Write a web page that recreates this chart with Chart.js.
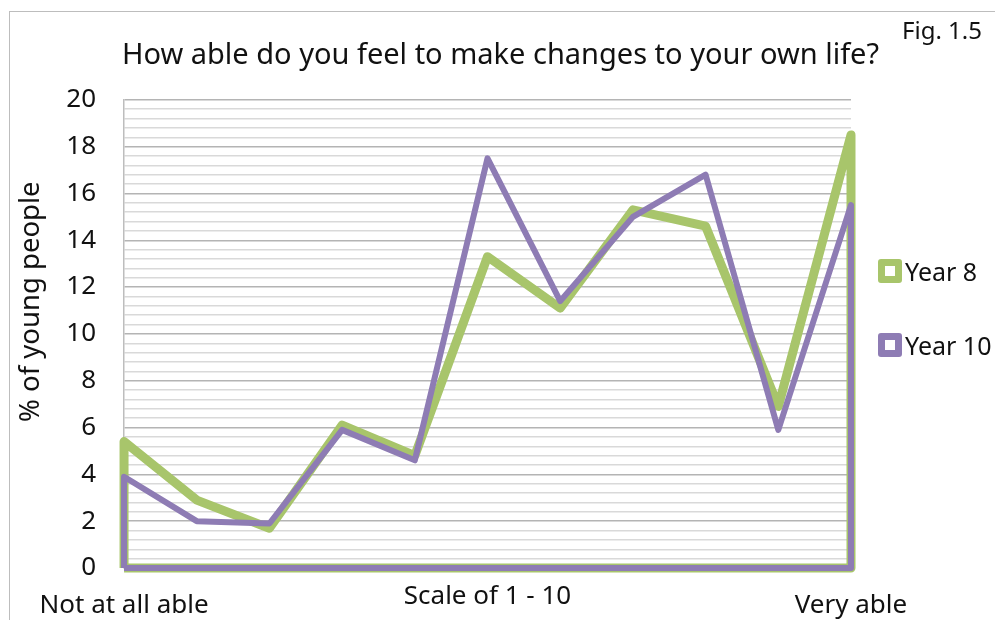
<!DOCTYPE html>
<html>
<head>
<meta charset="utf-8">
<script src="https://cdn.jsdelivr.net/npm/chart.js@4.4.0/dist/chart.umd.min.js"></script>
<style>
  html, body { margin: 0; padding: 0; background: #fff; }
  #wrap { position: relative; width: 995px; height: 620px; overflow: hidden; font-family: 'Noto Sans', sans-serif; color: #111; }
  /* cadre gris de la figure (seuls les bords haut et gauche sont visibles) */
  #frame {
    position: absolute; left: 9px; top: 11px; right: -10px; bottom: -10px;
    border-left: 1.5px solid #bdbdbd; border-top: 1.5px solid #bdbdbd;
    pointer-events: none;
  }
  #fig { position: absolute; right: 13px; top: 18px; font-size: 24px; line-height: 24px; }
  #legend { position: absolute; left: 878px; top: 259px; }
  .item { display: flex; align-items: center; height: 24px; font-size: 25px; line-height: 24px; margin-bottom: 50px; }
  .box { width: 24px; height: 24px; box-sizing: border-box; border: 7px solid; border-radius: 3px; background: #fff; margin-right: 3px; }
</style>
</head>
<body>
<div id="wrap">
  <canvas id="lifeChart" width="995" height="620"></canvas>
  <div id="frame"></div>
  <div id="fig">Fig. 1.5</div>
  <div id="legend"></div>
</div>
<script>
// ------------------------------------------------------------
//  Fig. 1.5 - How able do you feel to make changes to your own life?
// ------------------------------------------------------------

const FONT = "'Noto Sans', sans-serif";

// points de l'échelle (de "Not at all able" à "Very able")
const scalePoints = [0, 1, 2, 3, 4, 5, 6, 7, 8, 9, 10];
const endLabels = ["Not at all able", "Very able"];

// % of young people
const year8 = [5.4, 2.9, 1.7, 6.1, 4.8, 13.3, 11.1, 15.3, 14.6, 6.9, 18.5];
const year10 = [3.9, 2.0, 1.9, 5.9, 4.6, 17.5, 11.4, 15.0, 16.8, 5.9, 15.5];

const seriesNames = ["Year 8", "Year 10"];
const seriesColors = ["#a8c56b", "#8e7cb4"];

// contour d'une aire (comme un graphique en aires Excel sans remplissage)
function areaOutline(values) {
    const first = scalePoints[0];
    const last = scalePoints[scalePoints.length - 1];
    const pts = values.map((v, i) => ({ x: scalePoints[i], y: v }));
    return [{ x: first, y: 0 }, ...pts, { x: last, y: 0 }, { x: first, y: 0 }];
}

const isMajor = v => Math.abs(v / 2 - Math.round(v / 2)) < 1e-6;

// légende en HTML (boîtes carrées à bord épais)
const legendEl = document.getElementById("legend");
seriesNames.forEach((name, i) => {
    const item = document.createElement("div");
    item.className = "item";
    const box = document.createElement("span");
    box.className = "box";
    box.style.borderColor = seriesColors[i];
    item.appendChild(box);
    item.appendChild(document.createTextNode(name));
    legendEl.appendChild(item);
});

const ctx = document.getElementById("lifeChart").getContext("2d");

new Chart(ctx, {
    type: "line",
    data: {
        datasets: [
            {
                label: seriesNames[0],
                data: areaOutline(year8),
                borderColor: seriesColors[0],
                borderWidth: 9,
                borderJoinStyle: "round",
                pointRadius: 0,
                fill: false,
                tension: 0,
                clip: 10,
                order: 2
            },
            {
                label: seriesNames[1],
                data: areaOutline(year10),
                borderColor: seriesColors[1],
                borderWidth: 6,
                borderJoinStyle: "round",
                pointRadius: 0,
                fill: false,
                tension: 0,
                clip: 10,
                order: 1
            }
        ]
    },
    options: {
        responsive: false,
        animation: false,
        layout: { padding: { top: 0, right: 0, bottom: 0, left: 6 } },
        scales: {
            x: {
                type: "linear",
                min: 0,
                max: 10,
                grid: { display: false, drawTicks: false },
                border: { display: false },
                ticks: {
                    stepSize: 1,
                    autoSkip: false,
                    maxRotation: 0,
                    padding: 22,
                    color: "#111",
                    font: { family: FONT, size: 26 },
                    callback: v => v === 0 ? endLabels[0] : (v === 10 ? endLabels[1] : "")
                },
                title: {
                    display: true,
                    text: "Scale of 1 - 10",
                    color: "#111",
                    font: { family: FONT, size: 26 },
                    padding: { top: -61.8, bottom: 7.4 }
                }
            },
            y: {
                min: 0,
                max: 20,
                grid: {
                    drawTicks: false,
                    lineWidth: 1.5,
                    color: c => isMajor(c.tick.value) ? "#b4b4b4" : "#d9d9d9"
                },
                border: { display: true, color: "#bdbdbd", width: 1.5 },
                ticks: {
                    stepSize: 0.4,
                    autoSkip: false,
                    padding: 28,
                    color: "#111",
                    font: { family: FONT, size: 26 },
                    callback: v => isMajor(v) ? String(Math.round(v)) : ""
                },
                title: {
                    display: true,
                    // espaces insécables en tête : le titre est un peu au-dessus du centre
                    text: "\u00a0".repeat(9) + "% of young people",
                    color: "#111",
                    font: { family: FONT, size: 27.5 },
                    padding: { top: 8.5, bottom: -9.2 }
                }
            },
            // place réservée à la légende à droite
            gap: {
                type: "linear",
                position: "right",
                grid: { display: false },
                border: { display: false },
                ticks: { display: false },
                afterFit(scale) { scale.width = 144; }
            }
        },
        plugins: {
            title: {
                display: true,
                text: "How able do you feel to make changes to your own life?",
                color: "#111",
                font: { family: FONT, size: 29, weight: "normal" },
                padding: { top: 38, bottom: 27 }
            },
            legend: { display: false },
            tooltip: { enabled: false }
        }
    }
});
</script>
</body>
</html>
